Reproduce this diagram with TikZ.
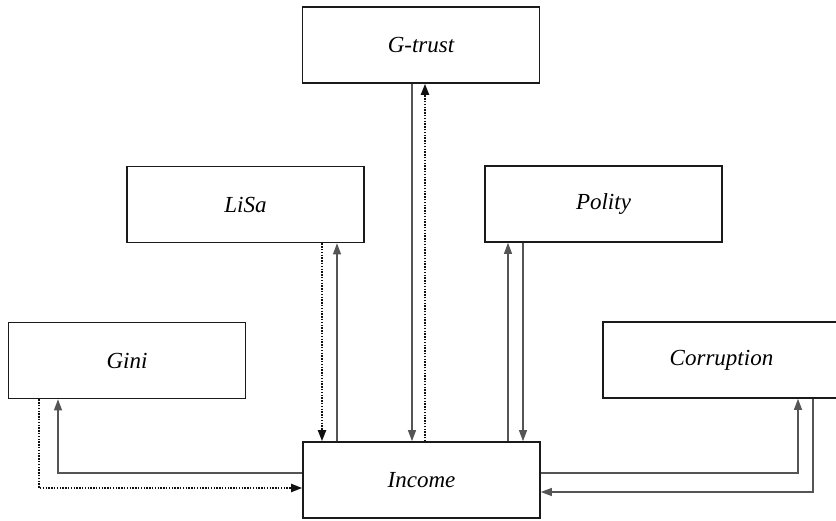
\documentclass[tikz,border=0pt]{standalone}
\usepackage{fontspec}
\setmainfont{Liberation Serif}
\usepackage{tikz}
\usetikzlibrary{
  arrows.meta,
  positioning,
  calc
}
\definecolor{vrBox}{HTML}{1A1A1A}
\definecolor{vrLine}{HTML}{555555}
\definecolor{vrDot}{HTML}{111111}
\tikzset{
  varbox/.style={
    draw=vrBox, line width=1.7pt, fill=white, minimum width=237pt, minimum height=76pt,
    font=\fontsize{23}{27}\selectfont\itshape, align=center, inner sep=0pt
  },
  flow/.style={-{Triangle[length=11pt, width=8pt]}, line width=1.1pt, vrLine},
  dotflow/.style={-{Triangle[length=11pt, width=8pt]}, line width=2pt, vrDot,
    dash pattern=on 1.4pt off 1.4pt}
}

\begin{document}
\begin{tikzpicture}[x=1pt, y=-1pt]
  \useasboundingbox[fill=white] (0,0) rectangle (836,520);
  % variables
  \node[varbox] (gtrust) at (421,45) {G-trust};
  \node[varbox] (lisa) at (245.5,204.5) {LiSa};
  \node[varbox] (polity) at (603.5,204) {Polity};
  \node[varbox] (gini) at (127,360.5) {Gini};
  \node[varbox] (corrupt) at (721.5,360) {Corruption};
  \node[varbox] (income) at (421.5,480) {Income};
  % Gini <-> Income
  \draw[dotflow] ([xshift=-88pt]gini.south) |- ([yshift=-8pt]income.west);
  \draw[flow] ([yshift=7pt]income.west) -| ([xshift=-69pt]gini.south);
  % LiSa <-> Income
  \draw[dotflow] ([xshift=76.5pt]lisa.south) -- ([xshift=76.5pt]lisa.south |- income.north);
  \draw[flow] ([xshift=91.5pt]lisa.south |- income.north) -- ([xshift=91.5pt]lisa.south);
  % G-trust <-> Income
  \draw[flow] ([xshift=-9pt]gtrust.south) -- ([xshift=-9pt]gtrust.south |- income.north);
  \draw[dotflow] ([xshift=4pt]gtrust.south |- income.north) -- ([xshift=4pt]gtrust.south);
  % Polity <-> Income
  \draw[flow] ([xshift=-95.5pt]polity.south |- income.north) -- ([xshift=-95.5pt]polity.south);
  \draw[flow] ([xshift=-80.5pt]polity.south) -- ([xshift=-80.5pt]polity.south |- income.north);
  % Corruption <-> Income
  \draw[flow] ([yshift=7pt]income.east) -| ([xshift=76.5pt]corrupt.south);
  \draw[flow] ([xshift=91.5pt]corrupt.south) |- ([yshift=-12pt]income.east);
\end{tikzpicture}
\end{document}
